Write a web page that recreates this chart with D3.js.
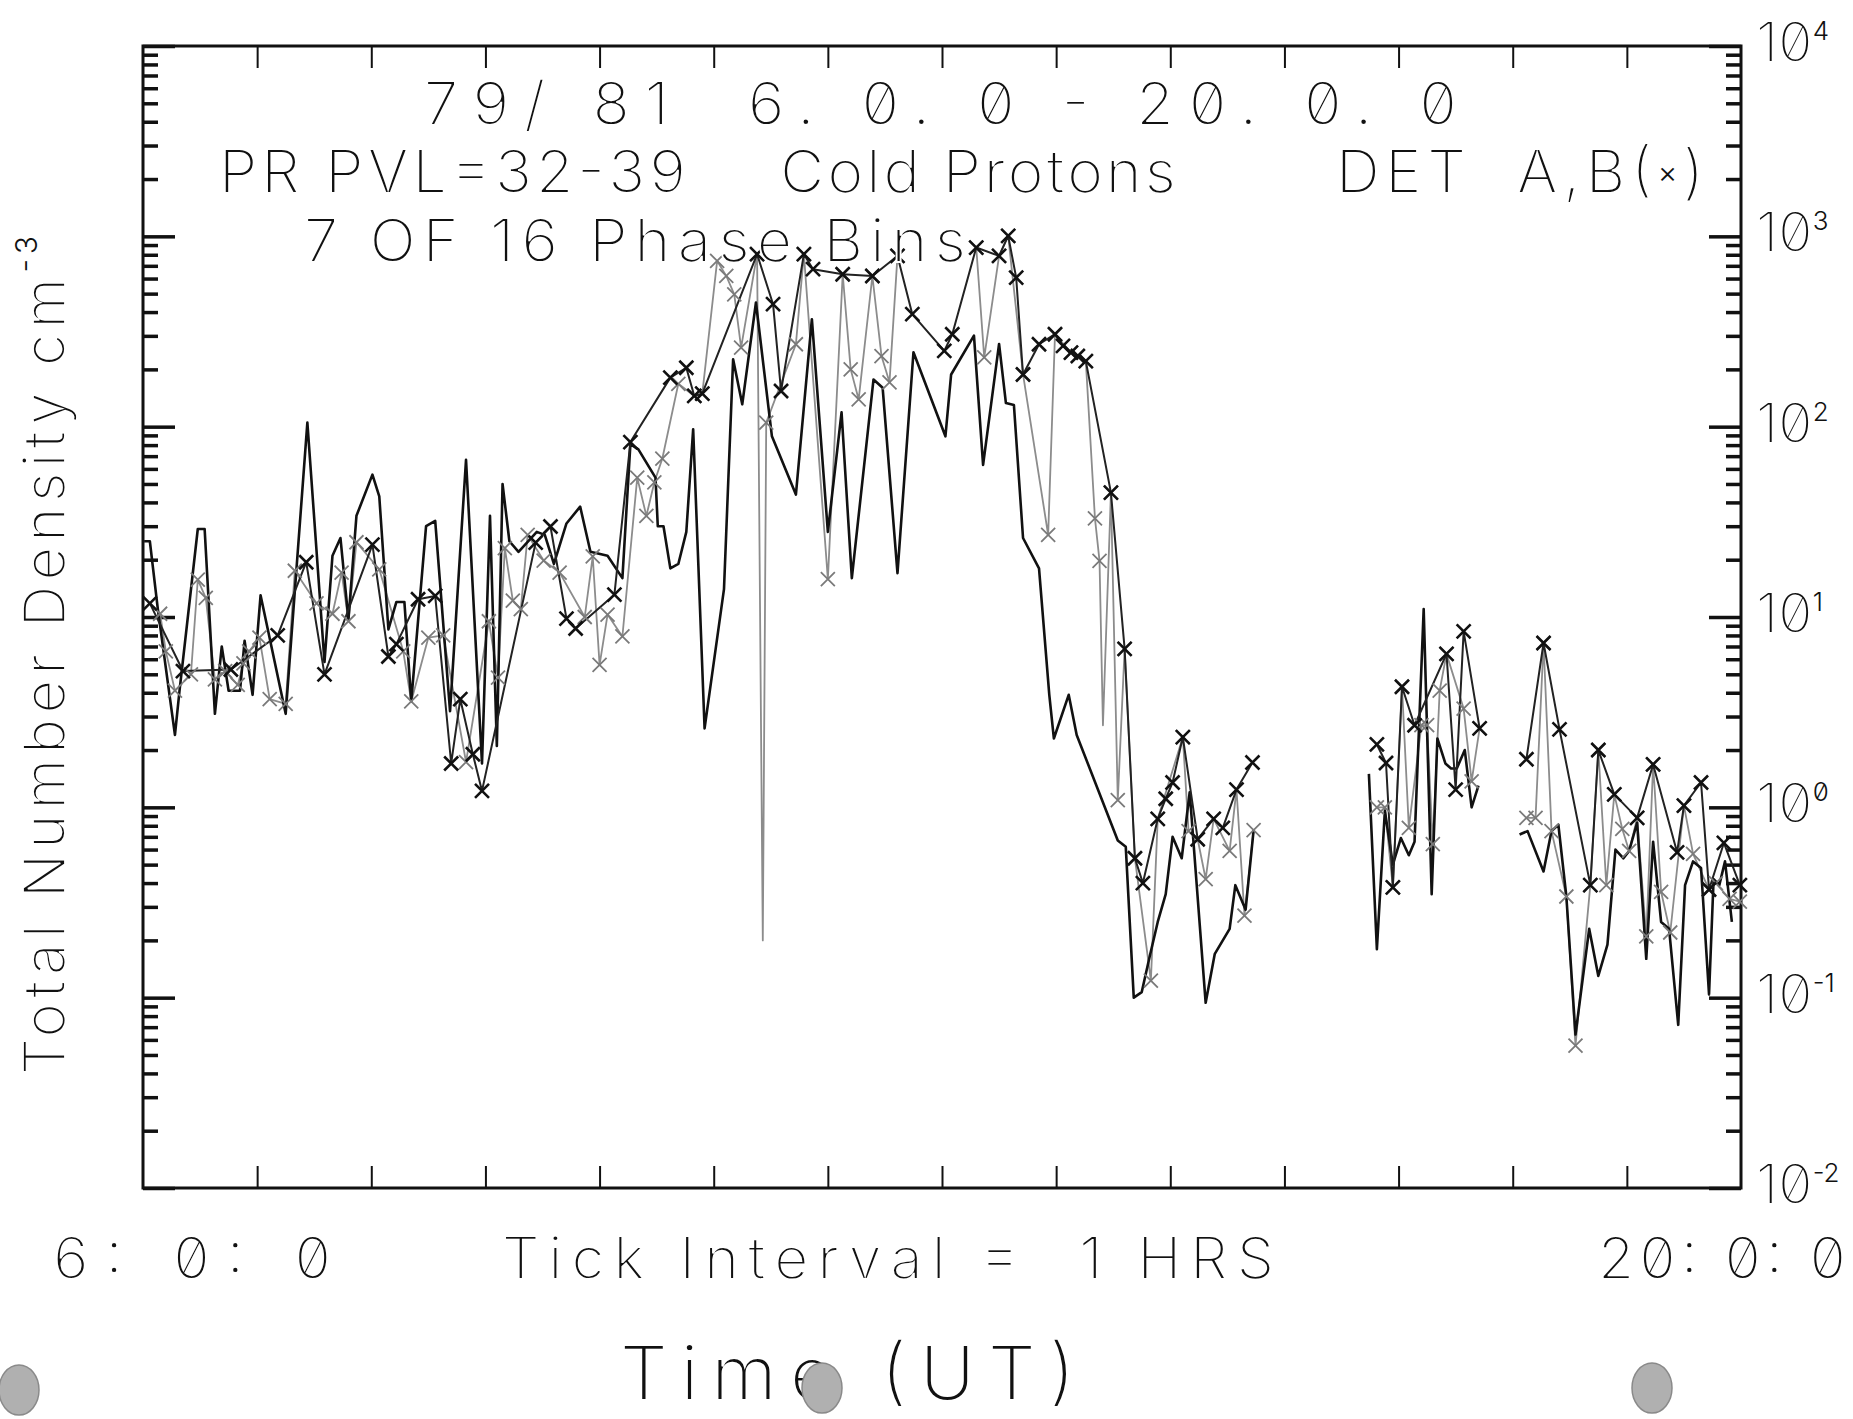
<!DOCTYPE html>
<html>
<head>
<meta charset="utf-8">
<script src="https://cdn.jsdelivr.net/npm/d3@7"></script>
<style>
  body { margin: 0; background: #fff; }
  svg text {
    font-family: Inter, 'DejaVu Sans', sans-serif;
    font-weight: 300;
    font-feature-settings: 'zero' 1;
    fill: #111;
    stroke: #fff;
    stroke-width: 1.8px;
    white-space: pre;
  }
  svg text tspan.small { stroke: none; }
</style>
</head>
<body>
<svg id="chart" width="1853" height="1419"></svg>
<script>
(function () {
  'use strict';

  // DET A : plain black trace (null = data gap)
  var hoursA = [6.01, 6.06, 6.13, 6.28, 6.32, 6.48, 6.54, 6.63, 6.69, 6.75,
    6.85, 6.89, 6.96, 7.03, 7.25, 7.44, 7.59, 7.66, 7.73, 7.80,
    7.87, 8.01, 8.07, 8.15, 8.22, 8.29, 8.35, 8.48, 8.56, 8.69,
    8.83, 8.97, 9.04, 9.10, 9.15, 9.21, 9.29, 9.45, 9.52, 9.60,
    9.71, 9.83, 9.92, 10.07, 10.20, 10.27, 10.34, 10.49, 10.51, 10.56,
    10.62, 10.69, 10.76, 10.82, 10.92, 11.09, 11.17, 11.25, 11.37, 11.51,
    11.72, 11.86, 12.00, 12.12, 12.21, 12.40, 12.48, 12.61, 12.75, 13.03,
    13.08, 13.28, 13.36, 13.50, 13.56, 13.63, 13.71, 13.85, 13.94, 13.98,
    14.11, 14.18, 14.54, 14.61, 14.68, 14.75, 14.82, 14.89, 14.96, 15.02,
    15.10, 15.17, 15.31, 15.39, 15.52, 15.57, 15.66, 15.73, null, 16.74,
    16.81, 16.88, 16.95, 17.02, 17.09, 17.14, 17.22, 17.29, 17.34, 17.41,
    17.46, 17.51, 17.58, 17.64, 17.70, null, 18.06, 18.13, 18.27, 18.34,
    18.40, 18.47, 18.55, 18.67, 18.75, 18.83, 18.90, 18.97, 19.02, 19.09,
    19.17, 19.23, 19.30, 19.37, 19.45, 19.51, 19.58, 19.65, 19.72, 19.76,
    19.81, 19.86, 19.92];
  var densityA = [25, 25, 11, 2.4, 4.1, 29, 29, 3.1, 7.0, 4.1,
    4.1, 7.5, 3.9, 13, 3.1, 105, 5.8, 21, 26, 9.7,
    34, 56, 43, 8.6, 12, 12, 3.6, 30, 32, 3.2,
    67, 1.7, 34, 2.1, 50, 25, 22, 28, 27, 19,
    31, 38, 22, 21, 16, 81, 76, 54, 30, 30,
    18, 19, 28, 97, 2.6, 14, 226, 131, 449, 89,
    44, 367, 28, 119, 16, 177, 160, 17, 246, 89,
    188, 301, 63, 272, 133, 130, 26, 18, 3.9, 2.3,
    3.9, 2.4, 0.67, 0.62, 0.10, 0.107, 0.165, 0.25, 0.35, 0.70,
    0.54, 1.2, 0.094, 0.17, 0.23, 0.39, 0.29, 0.76, null, 1.5,
    0.18, 0.96, 0.5, 0.69, 0.56, 0.66, 11, 0.35, 2.3, 1.7,
    1.6, 1.6, 2.0, 1.0, 1.3, null, 0.72, 0.75, 0.46, 0.75,
    0.81, 0.34, 0.064, 0.23, 0.13, 0.19, 0.6, 0.54, 0.59, 0.83,
    0.16, 0.66, 0.25, 0.23, 0.072, 0.39, 0.52, 0.48, 0.104, 0.42,
    0.39, 0.52, 0.25];

  // DET B : black trace with x
  var hoursB = [6.06, 6.35, 6.77, 7.18, 7.43, 7.59, 8.01, 8.15, 8.22, 8.41,
    8.56, 8.70, 8.78, 8.89, 8.97, 9.44, 9.57, 9.71, 9.79, 10.13,
    10.27, 10.62, 10.76, 10.83, 10.90, 11.38, 11.52, 11.59, 11.79, 11.87,
    12.13, 12.39, 12.61, 12.74, 13.02, 13.09, 13.30, 13.50, 13.58, 13.65,
    13.71, 13.85, 13.99, 14.06, 14.13, 14.19, 14.26, 14.48, 14.60, 14.69,
    14.76, 14.89, 14.96, 15.02, 15.11, 15.24, 15.38, 15.46, 15.58, 15.72,
    null, 16.81, 16.89, 16.95, 17.03, 17.14, 17.42, 17.50, 17.57, 17.71,
    null, 18.12, 18.27, 18.41, 18.68, 18.75, 18.89, 19.09, 19.23, 19.44,
    19.50, 19.65, 19.72, 19.85, 19.99];
  var densityB = [11.8, 5.2, 5.3, 8.0, 19.4, 5.0, 24, 6.2, 7.2, 12.4,
    12.9, 1.7, 3.7, 1.9, 1.22, 24.6, 29.9, 9.8, 8.7, 13.1,
    83, 181, 204, 145, 149, 806, 440, 154, 806, 672,
    632, 619, 789, 390, 250, 306, 873, 789, 1005, 607,
    188, 271, 306, 266, 245, 235, 221, 45, 6.8, 0.54,
    0.40, 0.87, 1.11, 1.35, 2.34, 0.68, 0.87, 0.78, 1.24, 1.72,
    null, 2.14, 1.71, 0.38, 4.3, 2.7, 6.4, 1.24, 8.4, 2.6,
    null, 1.79, 7.3, 2.57, 0.39, 2.0, 1.17, 0.88, 1.68, 0.58,
    1.02, 1.35, 0.37, 0.65, 0.39];

  // second phase-bin set : grey trace with x
  var hoursC = [6.15, 6.20, 6.28, 6.42, 6.48, 6.55, 6.63, 6.72, 6.83, 6.88,
    6.93, 7.02, 7.11, 7.25, 7.33, 7.52, 7.66, 7.74, 7.80, 7.87,
    8.07, 8.28, 8.35, 8.50, 8.63, 8.83, 9.03, 9.11, 9.17, 9.24,
    9.31, 9.37, 9.51, 9.65, 9.87, 9.94, 10.00, 10.07, 10.20, 10.33,
    10.41, 10.48, 10.55, 10.69, 10.83, 10.90, 11.03, 11.11, 11.18, 11.24,
    11.38, 11.43, 11.46, 11.72, 11.79, 12.00, 12.13, 12.20, 12.27, 12.39,
    12.47, 12.54, 12.61, null, 13.30, 13.37, 13.50, 13.58, 13.71, 13.93,
    13.99, 14.13, 14.26, 14.34, 14.38, 14.41, 14.48, 14.54, 14.60, 14.69,
    14.83, 14.89, 15.11, 15.16, 15.24, 15.31, 15.38, 15.52, 15.58, 15.65,
    15.73, null, 16.81, 16.88, 16.95, 17.03, 17.09, 17.20, 17.25, 17.30,
    17.36, 17.42, 17.57, 17.64, 17.71, null, 18.12, 18.20, 18.27, 18.34,
    18.47, 18.55, 18.68, 18.75, 18.82, 18.89, 18.96, 19.02, 19.09, 19.17,
    19.23, 19.30, 19.38, 19.50, 19.58, 19.72, 19.78, 19.90, 19.99];
  var densityC = [10.4, 6.6, 4.1, 5.0, 15.7, 12.6, 4.7, 5.2, 4.4, 5.7,
    6.6, 7.8, 3.7, 3.5, 17.5, 11.8, 10.4, 17.1, 9.5, 24.7,
    17.8, 6.6, 3.6, 7.8, 8.0, 1.73, 9.5, 4.8, 23, 12.2,
    11.0, 27, 19.8, 17.1, 10.0, 20.8, 5.6, 10.3, 7.9, 54,
    34, 51, 68, 168, 145, 149, 743, 619, 496, 260,
    806, 0.2, 105, 271, 806, 15.8, 632, 200, 139, 619,
    235, 171, 789, null, 873, 231, 789, 1005, 188, 27,
    306, 245, 221, 33, 19.7, 2.7, 45, 1.09, 6.8, 0.54,
    0.123, 0.87, 2.34, 0.75, 0.68, 0.42, 0.87, 0.59, 1.24, 0.27,
    0.76, null, 1.0, 1.0, 0.38, 4.3, 0.78, 2.7, 2.7, 0.64,
    4.1, 6.4, 3.3, 1.37, 2.6, null, 0.88, 0.88, 7.3, 0.75,
    0.34, 0.056, 0.39, 2.0, 0.39, 1.17, 0.77, 0.59, 0.88, 0.21,
    1.68, 0.36, 0.22, 1.02, 0.57, 0.37, 0.40, 0.33, 0.32];
  // vertices of the grey trace drawn without an x
  var plainHoursC = [11.43, 14.41];

  var decadeExponents = ['-2', '-1', '0', '1', '2', '3', '4'];
  var hourTicks = d3.range(6, 21);
  var startLabel = '6: 0: 0';
  var endLabel = '20: 0: 0';

  var svg = d3.select('#chart');

  var plot = { left: 143, right: 1741, top: 46, bottom: 1188 };
  var x = d3.scaleLinear().domain([6, 20]).range([plot.left, plot.right]);
  var y = d3.scaleLog().domain([1e-2, 1e4]).range([plot.bottom, plot.top]);

  function pairs(hours, dens) {
    return hours.map(function(h, i) { return { t: h, v: dens[i] }; });
  }
  var ptsA = pairs(hoursA, densityA);
  var ptsB = pairs(hoursB, densityB);
  var ptsC = pairs(hoursC, densityC);

  var line = d3.line()
    .defined(function(d) { return d.v != null; })
    .x(function(d) { return x(d.t); })
    .y(function(d) { return y(d.v); });

  // hour ticks, bottom and top, pointing inwards
  var inner = hourTicks.slice(1, -1);
  svg.append('g')
    .attr('transform', 'translate(0,' + plot.bottom + ')')
    .call(d3.axisBottom(x).tickValues(inner).tickSize(-22).tickFormat(''))
    .call(function(g) { g.select('.domain').remove(); })
    .selectAll('line').attr('stroke', '#111').attr('stroke-width', 2);
  svg.append('g')
    .attr('transform', 'translate(0,' + plot.top + ')')
    .call(d3.axisTop(x).tickValues(inner).tickSize(-22).tickFormat(''))
    .call(function(g) { g.select('.domain').remove(); })
    .selectAll('line').attr('stroke', '#111').attr('stroke-width', 2);

  // log ticks on both sides
  var majors = y.ticks().filter(function(v) { return Math.abs(Math.log10(v) % 1) < 1e-6; });
  var minors = y.ticks().filter(function(v) { return majors.indexOf(v) < 0; });
  [[d3.axisLeft, plot.left], [d3.axisRight, plot.right]].forEach(function(side) {
    svg.append('g')
      .attr('transform', 'translate(' + side[1] + ',0)')
      .call(side[0](y).tickValues(minors).tickSize(-15).tickFormat(''))
      .call(function(g) { g.select('.domain').remove(); })
      .selectAll('line').attr('stroke', '#111').attr('stroke-width', 3.5);
    svg.append('g')
      .attr('transform', 'translate(' + side[1] + ',0)')
      .call(side[0](y).tickValues(majors).tickSize(-32).tickFormat(''))
      .call(function(g) { g.select('.domain').remove(); })
      .selectAll('line').attr('stroke', '#111').attr('stroke-width', 3.5);
  });

  // frame
  svg.append('rect')
    .attr('x', plot.left).attr('y', plot.top)
    .attr('width', plot.right - plot.left).attr('height', plot.bottom - plot.top)
    .attr('fill', 'none').attr('stroke', '#111').attr('stroke-width', 3);

  // traces
  svg.append('path').datum(ptsC).attr('d', line)
    .attr('fill', 'none').attr('stroke', '#8c8c8c').attr('stroke-width', 1.8)
    .attr('stroke-linejoin', 'round');
  svg.append('path').datum(ptsA).attr('d', line)
    .attr('fill', 'none').attr('stroke', '#111').attr('stroke-width', 2.6)
    .attr('stroke-linejoin', 'round');
  svg.append('path').datum(ptsB).attr('d', line)
    .attr('fill', 'none').attr('stroke', '#222').attr('stroke-width', 2)
    .attr('stroke-linejoin', 'round');

  var cross = 'M-7,-7L7,7M-7,7L7,-7';
  svg.append('g').selectAll('path')
    .data(ptsC.filter(function(d) { return d.v != null && plainHoursC.indexOf(d.t) < 0; }))
    .enter().append('path')
    .attr('d', cross)
    .attr('transform', function(d) { return 'translate(' + x(d.t) + ',' + y(d.v) + ')'; })
    .attr('stroke', '#7a7a7a').attr('stroke-width', 1.8);
  svg.append('g').selectAll('path')
    .data(ptsB.filter(function(d) { return d.v != null; }))
    .enter().append('path')
    .attr('d', cross)
    .attr('transform', function(d) { return 'translate(' + x(d.t) + ',' + y(d.v) + ')'; })
    .attr('stroke', '#111').attr('stroke-width', 2.6);

  // text helper, glyphs keep their shape and the gaps take up the width
  function label(txt, x0, x1, base, size) {
    return svg.append('text')
      .attr('x', x0).attr('y', base)
      .attr('textLength', x1 - x0).attr('lengthAdjust', 'spacing')
      .style('font-size', size + 'px')
      .text(txt);
  }
  label('79/ 81  6. 0. 0 - 20. 0. 0', 424, 1457, 125, 61);
  label('PR PVL=32-39', 219, 686, 193, 61);
  label('Cold Protons', 780, 1176, 193, 61);
  var det = svg.append('text')
    .attr('x', 1336).attr('y', 193)
    .attr('textLength', 368).attr('lengthAdjust', 'spacing')
    .style('font-size', '61px');
  det.append('tspan').text('DET  A,B(');
  det.append('tspan').attr('class', 'small').attr('dy', -10).style('font-size', '30px').text('\u00d7');
  det.append('tspan').attr('dy', 10).text(')');
  label('7 OF 16 Phase Bins', 304, 966, 262, 61);

  // y axis title
  var yt = svg.append('text')
    .attr('transform', 'translate(65,1075) rotate(-90)')
    .attr('textLength', 839).attr('lengthAdjust', 'spacing')
    .style('font-size', '58px');
  yt.append('tspan').text('Total Number Density cm');
  yt.append('tspan').attr('class', 'small').attr('dy', -28).style('font-size', '30px').text('-3');

  // decade labels on the right edge
  majors.forEach(function(v, i) {
    var t = svg.append('text')
      .attr('x', 1756).attr('y', y(v) + 16)
      .style('font-size', '56px');
    t.append('tspan').text('10');
    t.append('tspan').attr('class', 'small').attr('dy', -22).style('font-size', '26px')
      .text(decadeExponents[i]);
  });

  // time labels under the axis
  label(startLabel, 53, 331, 1279, 59);
  label('Tick Interval =  1 HRS', 502, 1274, 1279, 59);
  label(endLabel, 1598, 1846, 1279, 59);
  label('Time (UT)', 620, 1075, 1400, 75);

  // punch holes of the scanned sheet
  var holes = [[19, 1390], [822, 1388], [1652, 1388]];
  svg.append('g').selectAll('ellipse')
    .data(holes)
    .enter().append('ellipse')
    .attr('cx', function(d) { return d[0]; })
    .attr('cy', function(d) { return d[1]; })
    .attr('rx', 20).attr('ry', 25)
    .attr('fill', '#b0b0b0').attr('stroke', '#8a8a8a').attr('stroke-width', 1.5);
}());
</script>
</body>
</html>
